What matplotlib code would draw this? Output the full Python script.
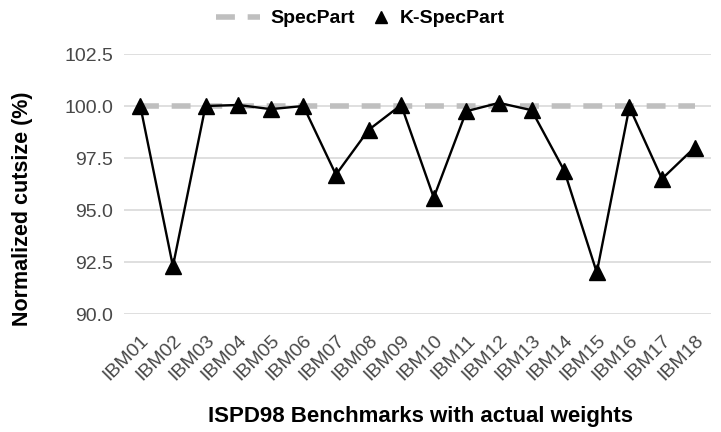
import numpy as np
import matplotlib
matplotlib.use('Agg')
import matplotlib.pyplot as plt
from matplotlib.lines import Line2D
from matplotlib.legend_handler import HandlerLine2D

plt.rcParams['font.family'] = ['Liberation Sans', 'DejaVu Sans']

benchmarks = ['IBM01', 'IBM02', 'IBM03', 'IBM04', 'IBM05', 'IBM06', 'IBM07', 'IBM08', 'IBM09',
              'IBM10', 'IBM11', 'IBM12', 'IBM13', 'IBM14', 'IBM15', 'IBM16', 'IBM17', 'IBM18']
specpart = [100.0] * 18
kspecpart = [100.0, 92.3, 100.0, 100.05, 99.85, 100.0, 96.7, 98.85, 100.05,
             95.6, 99.75, 100.15, 99.8, 96.9, 92.0, 99.95, 96.5, 98.0]
yticks = [90.0, 92.5, 95.0, 97.5, 100.0, 102.5]

fig = plt.figure(figsize=(7.21, 4.32), dpi=100)
ax = fig.add_axes([0.172, 0.273, 0.814, 0.602])

x = np.arange(len(benchmarks))
dash = (0, (3.4, 2.3))
ax.plot(x, specpart, color='#BFBFBF', lw=4, ls=dash, zorder=2)
ax.plot(x, kspecpart, color='black', lw=1.7, marker='^', ms=11, zorder=3)

ax.set_xlim(-0.5, len(benchmarks) - 0.5)
ax.set_ylim(90, 102.5)
ax.set_yticks(yticks)
ax.set_yticklabels([f'{v:.1f}' for v in yticks], fontsize=14, color='#484848')
ax.set_xticks(x)
ax.set_xticklabels(benchmarks, rotation=45, ha='right', va='top', rotation_mode='anchor',
                   fontsize=14, color='#484848')
ax.tick_params(axis='y', length=0, pad=8)
ax.tick_params(axis='x', length=0, pad=13)
ax.grid(axis='y', color='#D9D9D9', lw=1.2)
ax.set_axisbelow(True)
for s in ax.spines.values():
    s.set_visible(False)

ax.set_ylabel('Normalized cutsize (%)', fontsize=15.5, fontweight='bold')
ax.yaxis.set_label_coords(-0.155, 0.405)
ax.set_xlabel('ISPD98 Benchmarks with actual weights', fontsize=16, fontweight='bold')
ax.xaxis.set_label_coords(0.505, -0.355)

h_spec = Line2D([], [], color='#BFBFBF', lw=4, ls=dash)
h_kspec = Line2D([], [], color='black', ls='none', marker='^', ms=9)
fig.legend([h_spec, h_kspec], ['SpecPart', 'K-SpecPart'], loc='center',
           bbox_to_anchor=(0.5, 0.957), ncol=2, frameon=False,
           prop={'weight': 'bold', 'size': 14}, handlelength=2.27, handletextpad=0.5,
           columnspacing=-0.45, handler_map={h_kspec: HandlerLine2D(xpad=1.34)})

fig.savefig('out.png', dpi=100)
